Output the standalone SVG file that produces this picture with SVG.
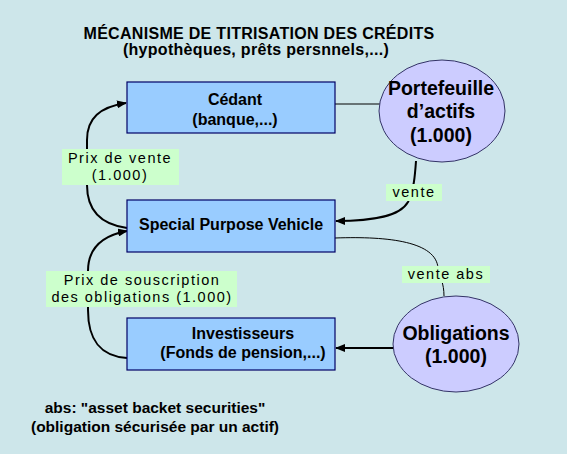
<svg xmlns="http://www.w3.org/2000/svg" width="567" height="454" viewBox="0 0 567 454">
<defs>
<marker id="ah" markerWidth="10" markerHeight="8" refX="9" refY="4" orient="auto" markerUnits="userSpaceOnUse">
<path d="M0,0 L10,4 L0,8 Z" fill="#000"/>
</marker>
<style>
.box{fill:#99ccff;stroke:#000066;stroke-width:1.2}
.ell{fill:#ccccff;stroke:#333366;stroke-width:1}
.bt{font-family:"Liberation Sans",Arial,sans-serif;font-weight:bold;font-size:16px;fill:#000;text-anchor:middle}
.et{font-family:"Liberation Sans",Arial,sans-serif;font-weight:bold;font-size:19.5px;fill:#000;text-anchor:middle}
.lb{fill:#ccffcc}
.lt{font-family:"Liberation Sans",Arial,sans-serif;font-size:14.5px;letter-spacing:1.5px;fill:#000;text-anchor:middle}
.thick{fill:none;stroke:#000;stroke-width:2}
.thin{fill:none;stroke:#000;stroke-width:1}
</style>
</defs>
<rect width="567" height="454" fill="#cde6ea"/>
<g id="title">
<text class="bt" x="259" y="38.5" letter-spacing="0.3">MÉCANISME DE TITRISATION DES CRÉDITS</text>
<text class="bt" x="256" y="55" letter-spacing="0.3">(hypothèques, prêts persnnels,...)</text>
</g>
<g id="connectors">
<path class="thin" d="M335,104 L380,104"/>
<path class="thick" d="M127,228 C98,224 87,208 87,185 L87,140 C87,118 100,107 126,103" marker-end="url(#ah)"/>
<path class="thick" d="M127,358 C100,356 88,340 88,310 L88,271 C88,250 100,236 127,231" marker-end="url(#ah)"/>
<path class="thick" d="M416,161 C415,175 414,190 408,202 C400,216 375,221 336,221" marker-end="url(#ah)"/>
<path class="thin" d="M335,238 C390,236 436,242 438,268 C440,278 444,283 444,296"/>
<path class="thick" d="M394,348 L336,348" marker-end="url(#ah)"/>
</g>
<g id="cedant">
<rect class="box" x="127" y="82" width="208" height="51"/>
<text class="bt" x="235" y="105">Cédant</text>
<text class="bt" x="235" y="125">(banque,...)</text>
</g>
<g id="spv">
<rect class="box" x="127" y="200" width="208" height="52"/>
<text class="bt" x="231" y="230">Special Purpose Vehicle</text>
</g>
<g id="investisseurs">
<rect class="box" x="127" y="318" width="208" height="52"/>
<text class="bt" x="243" y="339">Investisseurs</text>
<text class="bt" x="243" y="358">(Fonds de pension,...)</text>
</g>
<g id="portefeuille">
<ellipse class="ell" cx="442" cy="111" rx="63" ry="51"/>
<text class="et" x="441" y="95">Portefeuille</text>
<text class="et" x="441" y="118">d’actifs</text>
<text class="et" x="441" y="142">(1.000)</text>
</g>
<g id="obligations">
<ellipse class="ell" cx="456" cy="344" rx="63" ry="48"/>
<text class="et" x="456" y="340">Obligations</text>
<text class="et" x="456" y="363">(1.000)</text>
</g>
<g id="label-prix-vente">
<rect class="lb" x="62" y="149" width="117" height="36"/>
<text class="lt" x="120" y="163">Prix de vente</text>
<text class="lt" x="120" y="179.5">(1.000)</text>
</g>
<g id="label-prix-souscription">
<rect class="lb" x="46" y="271" width="191" height="36"/>
<text class="lt" x="142" y="285">Prix de souscription</text>
<text class="lt" x="142" y="301.5">des obligations (1.000)</text>
</g>
<g id="label-vente">
<rect class="lb" x="386" y="184" width="56" height="17"/>
<text class="lt" x="414" y="197">vente</text>
</g>
<g id="label-vente-abs">
<rect class="lb" x="402" y="266" width="88" height="17"/>
<text class="lt" x="446" y="279">vente abs</text>
</g>
<g id="footer">
<text class="bt" x="155" y="413" style="font-size:15.5px">abs: "asset backet securities"</text>
<text class="bt" x="155" y="432" style="font-size:15.5px">(obligation sécurisée par un actif)</text>
</g>
</svg>
